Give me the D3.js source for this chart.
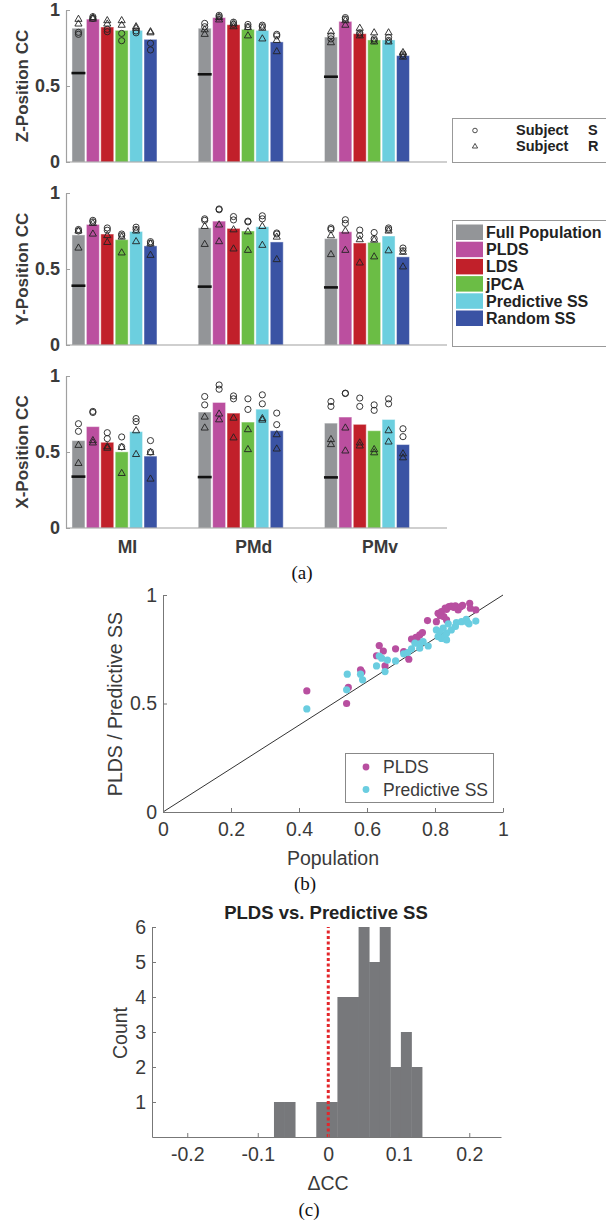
<!DOCTYPE html>
<html>
<head>
<meta charset="utf-8">
<script src="https://cdn.jsdelivr.net/npm/d3@7"></script>
<style>
  body { margin: 0; background: #fff; }
  svg { display: block; font-family: "Liberation Sans", Arial, sans-serif; }
</style>
</head>
<body>
<div id="chart"></div>
<script>
// Dati
const areas = ["MI", "PMd", "PMv"];
const methods = ["Full Population", "PLDS", "LDS", "jPCA", "Predictive SS", "Random SS"];
const methodColors = ["#939598", "#bb4f9f", "#c1202a", "#6bbd45", "#6ccfdf", "#3a53a4"];
const barTicks = [0, 0.5, 1];

// Z
const zBars = [
  [0.88, 0.94, 0.888, 0.866, 0.866, 0.807],
  [0.88, 0.95, 0.903, 0.873, 0.866, 0.79],
  [0.822, 0.925, 0.844, 0.803, 0.803, 0.70]
];
const zChance = [0.585, 0.577, 0.561];
const zSubjS = [
  [[0.853, 0.84], [0.956, 0.945], [0.873, 0.857], [0.846, 0.798], [0.862, 0.85], [0.781, 0.737]],
  [[0.912, 0.89], [0.965, 0.955], [0.92, 0.905], [0.905, 0.89], [0.90, 0.89], [0.84, 0.83]],
  [[0.83, 0.81], [0.95, 0.94], [0.85, 0.84], [0.81, 0.80], [0.82, 0.80], [0.71, 0.70]]
];
const zSubjR = [
  [[0.939, 0.908], [0.95, 0.94], [0.93, 0.908], [0.93, 0.90], [0.89, 0.88], [0.857, 0.85]],
  [[0.87, 0.84], [0.95, 0.935], [0.91, 0.89], [0.885, 0.83], [0.88, 0.81], [0.80, 0.726]],
  [[0.857, 0.785], [0.93, 0.90], [0.88, 0.83], [0.85, 0.79], [0.85, 0.79], [0.72, 0.69]]
];

// Y
const yBars = [
  [0.724, 0.793, 0.73, 0.693, 0.747, 0.652],
  [0.771, 0.815, 0.767, 0.75, 0.778, 0.678],
  [0.70, 0.745, 0.671, 0.675, 0.717, 0.58]
];
const yChance = [0.39, 0.384, 0.379];
const ySubjS = [
  [[0.76, 0.75], [0.82, 0.81], [0.77, 0.755], [0.73, 0.72], [0.775, 0.76], [0.68, 0.67]],
  [[0.83, 0.82], [0.895, 0.89], [0.845, 0.823], [0.815, 0.81], [0.85, 0.83], [0.737, 0.73]],
  [[0.77, 0.76], [0.824, 0.80], [0.756, 0.72], [0.74, 0.70], [0.77, 0.76], [0.638, 0.62]]
];
const ySubjR = [
  [[0.75, 0.638], [0.80, 0.73], [0.72, 0.675], [0.71, 0.606], [0.75, 0.68], [0.665, 0.59]],
  [[0.78, 0.662], [0.79, 0.68], [0.758, 0.632], [0.745, 0.623], [0.78, 0.656], [0.71, 0.562]],
  [[0.719, 0.595], [0.75, 0.623], [0.693, 0.54], [0.69, 0.58], [0.75, 0.62], [0.61, 0.514]]
];

// X
const xBars = [
  [0.575, 0.667, 0.564, 0.501, 0.634, 0.473],
  [0.763, 0.826, 0.756, 0.697, 0.782, 0.64],
  [0.69, 0.73, 0.682, 0.64, 0.714, 0.549]
];
const xChance = [0.338, 0.335, 0.333];
const xSubjS = [
  [[0.686, 0.636], [0.767, 0.76], [0.627, 0.588], [0.599, 0.534], [0.72, 0.70], [0.575, 0.50]],
  [[0.865, 0.81], [0.941, 0.913], [0.869, 0.85], [0.85, 0.78], [0.876, 0.817], [0.756, 0.68]],
  [[0.832, 0.80], [0.887, 0.885], [0.855, 0.80], [0.81, 0.774], [0.85, 0.817], [0.653, 0.601]]
];
const xSubjR = [
  [[0.544, 0.425], [0.575, 0.56], [0.535, 0.525], [0.53, 0.359], [0.64, 0.484], [0.496, 0.322]],
  [[0.73, 0.658], [0.75, 0.712], [0.723, 0.593], [0.647, 0.516], [0.72, 0.71], [0.614, 0.52]],
  [[0.582, 0.549], [0.658, 0.507], [0.56, 0.54], [0.516, 0.495], [0.64, 0.566], [0.488, 0.462]]
];

// Scatter (b)
const pldsPoints = [
  [0.423, 0.558], [0.540, 0.50], [0.545, 0.574], [0.581, 0.655], [0.585, 0.645], [0.628, 0.72],
  [0.636, 0.767], [0.648, 0.742], [0.653, 0.673], [0.684, 0.752], [0.708, 0.739], [0.723, 0.704],
  [0.731, 0.797], [0.744, 0.805], [0.755, 0.816], [0.763, 0.827], [0.750, 0.788], [0.778, 0.882],
  [0.804, 0.877], [0.809, 0.916], [0.819, 0.923], [0.826, 0.90], [0.834, 0.934], [0.841, 0.946],
  [0.848, 0.949], [0.855, 0.943], [0.868, 0.931], [0.881, 0.952], [0.902, 0.962], [0.904, 0.939],
  [0.920, 0.931], [0.834, 0.885], [0.815, 0.905], [0.830, 0.94], [0.860, 0.95], [0.875, 0.945]
];
const predPoints = [
  [0.423, 0.475], [0.542, 0.635], [0.540, 0.563], [0.581, 0.635], [0.587, 0.609], [0.628, 0.673],
  [0.643, 0.709], [0.653, 0.647], [0.636, 0.719], [0.684, 0.696], [0.708, 0.729], [0.731, 0.752],
  [0.741, 0.778], [0.755, 0.755], [0.765, 0.785], [0.780, 0.765], [0.804, 0.839], [0.809, 0.808],
  [0.819, 0.80], [0.829, 0.808], [0.834, 0.824], [0.824, 0.847], [0.839, 0.867], [0.848, 0.839],
  [0.863, 0.873], [0.878, 0.877], [0.892, 0.888], [0.900, 0.867], [0.920, 0.880], [0.814, 0.831],
  [0.834, 0.793], [0.755, 0.775], [0.895, 0.875], [0.860, 0.855], [0.720, 0.735], [0.660, 0.70]
];
const scatterTicksX = [0, 0.2, 0.4, 0.6, 0.8, 1];
const scatterTicksY = [0, 0.5, 1];

// Istogramma (c)
const histEdges = [-0.077, -0.062, -0.047, -0.032, -0.017, -0.002, 0.013, 0.028, 0.043, 0.058, 0.073, 0.088, 0.103, 0.118, 0.133];
const histCounts = [1, 1, 0, 0, 1, 1, 4, 4, 6, 5, 6, 2, 3, 2];
const histTicksX = [-0.2, -0.1, 0, 0.1, 0.2];
const histTicksY = [1, 2, 3, 4, 5, 6];

// Varuabili
const [width, height] = [606, 1224];
const textColor = "#3a3a3a";
const axisColor = "#a0a0a0";
const plainFormat = d => String(d);

const svg = d3.select("#chart")
  .append("svg")
  .attr("width", width)
  .attr("height", height);

// scala comune dei pannelli a barre
const xArea = d3.scaleLinear().domain([0.616, 3.634]).range([66, 447]);
const xMethod = d3.scaleBand().domain(methods).range([-42.5, 42.5]).paddingInner(0.1);

const drawBarPanel = (top, label, bars, chance, subjS, subjR, showCats) => {
  const y = d3.scaleLinear().domain([0, 1]).range([top + 152, top]);
  const g = svg.append("g");

  const barData = [];
  const markS = [];
  const markR = [];
  areas.forEach((a, ai) => {
    methods.forEach((m, mi) => {
      const cx = xArea(ai + 1) + xMethod(m) + xMethod.bandwidth() / 2;
      barData.push({ cx: cx, v: bars[ai][mi], c: methodColors[mi] });
      subjS[ai][mi].forEach(v => markS.push({ cx: cx, v: v }));
      subjR[ai][mi].forEach(v => markR.push({ cx: cx, v: v }));
    });
  });

  g.selectAll("rect.bar")
    .data(barData)
    .join("rect")
    .attr("class", "bar")
    .attr("x", d => d.cx - xMethod.bandwidth() / 2)
    .attr("y", d => y(d.v))
    .attr("width", xMethod.bandwidth())
    .attr("height", d => y(0) - y(d.v))
    .attr("fill", d => d.c)
    .attr("stroke", "#ffffff")
    .attr("stroke-opacity", 0.45)
    .attr("stroke-width", 1);

  // linea della popolazione
  g.selectAll("line.chance")
    .data(chance)
    .join("line")
    .attr("class", "chance")
    .attr("x1", (d, i) => xArea(i + 1) + xMethod(methods[0]) - 0.5)
    .attr("x2", (d, i) => xArea(i + 1) + xMethod(methods[0]) + xMethod.bandwidth() + 0.5)
    .attr("y1", d => y(d))
    .attr("y2", d => y(d))
    .attr("stroke", "#111")
    .attr("stroke-width", 2.6);

  g.selectAll("circle.s")
    .data(markS)
    .join("circle")
    .attr("class", "s")
    .attr("cx", d => d.cx)
    .attr("cy", d => y(d.v))
    .attr("r", 3.1)
    .attr("fill", "none")
    .attr("stroke", "#222")
    .attr("stroke-width", 0.9);

  g.selectAll("path.r")
    .data(markR)
    .join("path")
    .attr("class", "r")
    .attr("d", d3.symbol(d3.symbolTriangle).size(22))
    .attr("transform", d => "translate(" + d.cx + "," + y(d.v) + ")")
    .attr("fill", "none")
    .attr("stroke", "#222")
    .attr("stroke-width", 0.9);

  // assi
  const ax = g.append("g")
    .attr("transform", "translate(66,0)")
    .call(d3.axisLeft(y).tickValues(barTicks).tickSize(-4).tickSizeOuter(0).tickPadding(6).tickFormat(plainFormat));
  ax.select(".domain").attr("stroke", axisColor).attr("stroke-width", 1.2);
  ax.selectAll(".tick line").attr("stroke", axisColor);
  ax.selectAll(".tick text")
    .attr("fill", textColor)
    .attr("font-size", 18)
    .attr("font-weight", "bold")
    .attr("font-family", "Liberation Sans, Arial, sans-serif");

  g.append("line")
    .attr("x1", xArea.range()[0])
    .attr("x2", xArea.range()[1])
    .attr("y1", y(0))
    .attr("y2", y(0))
    .attr("stroke", axisColor)
    .attr("stroke-width", 1.2);

  g.append("text")
    .attr("transform", "translate(22," + (top + 76) + ") rotate(-90)")
    .attr("text-anchor", "middle")
    .attr("dominant-baseline", "central")
    .attr("font-size", 17)
    .attr("font-weight", "bold")
    .attr("fill", textColor)
    .text(label);

  if (showCats) {
    g.selectAll("text.cat")
      .data(areas)
      .join("text")
      .attr("class", "cat")
      .attr("x", (d, i) => xArea(i + 1) + 13)
      .attr("y", 553)
      .attr("text-anchor", "middle")
      .attr("font-size", 17.5)
      .attr("font-weight", "bold")
      .attr("fill", textColor)
      .text(d => d);
  }
};

const drawBarLegends = () => {
  const g = svg.append("g");
  g.append("rect")
    .attr("x", 452.5).attr("y", 118.5).attr("width", 170).attr("height", 44)
    .attr("fill", "#fff").attr("stroke", "#999").attr("stroke-width", 1);
  g.append("circle")
    .attr("cx", 475).attr("cy", 130.5).attr("r", 2.3)
    .attr("fill", "none").attr("stroke", "#222").attr("stroke-width", 0.8);
  g.append("path")
    .attr("d", d3.symbol(d3.symbolTriangle).size(12))
    .attr("transform", "translate(475,146.5)")
    .attr("fill", "none").attr("stroke", "#222").attr("stroke-width", 0.8);
  [["Subject", "S", 135], ["Subject", "R", 151]].forEach(r => {
    g.append("text").attr("x", 516).attr("y", r[2]).attr("font-size", 14.5)
      .attr("font-weight", "bold").attr("fill", "#222").text(r[0]);
    g.append("text").attr("x", 588).attr("y", r[2]).attr("font-size", 14.5)
      .attr("font-weight", "bold").attr("fill", "#222").text(r[1]);
  });

  const g2 = svg.append("g");
  g2.append("rect")
    .attr("x", 452.5).attr("y", 220.5).attr("width", 170).attr("height", 126)
    .attr("fill", "#fff").attr("stroke", "#999").attr("stroke-width", 1);
  g2.selectAll("rect.sw")
    .data(methods)
    .join("rect")
    .attr("class", "sw")
    .attr("x", 456)
    .attr("y", (d, i) => 224.5 + i * 17.2)
    .attr("width", 27)
    .attr("height", 15.5)
    .attr("fill", (d, i) => methodColors[i]);
  g2.selectAll("text.lab")
    .data(methods)
    .join("text")
    .attr("class", "lab")
    .attr("x", 486)
    .attr("y", (d, i) => 238 + i * 17.2)
    .attr("font-size", 16)
    .attr("font-weight", "bold")
    .attr("fill", "#222")
    .text(d => d);
};

const drawCaption = (txt, x, y) => {
  svg.append("text")
    .attr("x", x).attr("y", y)
    .attr("text-anchor", "middle")
    .attr("font-family", "Liberation Serif, Times New Roman, serif")
    .attr("font-size", 19)
    .attr("fill", "#111")
    .text(txt);
};

const styleAxis = (ax) => {
  ax.select(".domain").attr("stroke", "#777").attr("stroke-width", 1);
  ax.selectAll(".tick line").attr("stroke", "#777");
  ax.selectAll(".tick text")
    .attr("fill", textColor)
    .attr("font-size", 19.5)
    .attr("font-family", "Liberation Sans, Arial, sans-serif");
};

const drawScatter = () => {
  const x = d3.scaleLinear().domain([0, 1]).range([163, 503]);
  const y = d3.scaleLinear().domain([0, 1]).range([812, 595]);
  const g = svg.append("g");

  g.append("line")
    .attr("x1", x(0)).attr("y1", y(0)).attr("x2", x(1)).attr("y2", y(1))
    .attr("stroke", "#333").attr("stroke-width", 1);

  g.selectAll("circle.plds")
    .data(pldsPoints)
    .join("circle")
    .attr("class", "plds")
    .attr("cx", d => x(d[0]))
    .attr("cy", d => y(d[1]))
    .attr("r", 3.6)
    .attr("fill", "#b84fa0");

  g.selectAll("circle.pred")
    .data(predPoints)
    .join("circle")
    .attr("class", "pred")
    .attr("cx", d => x(d[0]))
    .attr("cy", d => y(d[1]))
    .attr("r", 3.6)
    .attr("fill", "#6acde0");

  const ax = g.append("g")
    .attr("transform", "translate(0," + y(0) + ")")
    .call(d3.axisBottom(x).tickValues(scatterTicksX).tickSize(-4).tickSizeOuter(0).tickPadding(10).tickFormat(plainFormat));
  styleAxis(ax);
  const ay = g.append("g")
    .attr("transform", "translate(" + x(0) + ",0)")
    .call(d3.axisLeft(y).tickValues(scatterTicksY).tickSize(-4).tickSizeOuter(0).tickPadding(6).tickFormat(plainFormat));
  styleAxis(ay);

  g.append("text")
    .attr("x", 333).attr("y", 865)
    .attr("text-anchor", "middle")
    .attr("font-size", 19.5).attr("fill", textColor)
    .text("Population");
  g.append("text")
    .attr("transform", "translate(115,704) rotate(-90)")
    .attr("text-anchor", "middle")
    .attr("dominant-baseline", "central")
    .attr("font-size", 19.5).attr("fill", textColor)
    .text("PLDS / Predictive SS");

  // legenda
  g.append("rect")
    .attr("x", 345.5).attr("y", 753.5).attr("width", 148).attr("height", 49)
    .attr("fill", "#fff").attr("stroke", "#888").attr("stroke-width", 1);
  [["PLDS", "#b84fa0", 767], ["Predictive SS", "#6acde0", 789.5]].forEach(r => {
    g.append("circle").attr("cx", 366).attr("cy", r[2]).attr("r", 3.4).attr("fill", r[1]);
    g.append("text").attr("x", 383).attr("y", r[2] + 6)
      .attr("font-size", 17.5).attr("fill", textColor).text(r[0]);
  });
};

const drawHistogram = () => {
  const x = d3.scaleLinear().domain([-0.25, 0.245]).range([152, 501]);
  const y = d3.scaleLinear().domain([0, 6]).range([1137, 927]);
  const g = svg.append("g");

  const bins = histCounts.map((c, i) => ({ x0: histEdges[i], x1: histEdges[i + 1], c: c }));
  g.selectAll("rect.bin")
    .data(bins.filter(d => d.c > 0))
    .join("rect")
    .attr("class", "bin")
    .attr("x", d => x(d.x0))
    .attr("y", d => y(d.c))
    .attr("width", d => x(d.x1) - x(d.x0) + 0.4)
    .attr("height", d => y(0) - y(d.c))
    .attr("fill", "#77787b");

  g.append("line")
    .attr("x1", x(0)).attr("x2", x(0))
    .attr("y1", y(0)).attr("y2", y(6))
    .attr("stroke", "#e3262b")
    .attr("stroke-width", 3)
    .attr("stroke-dasharray", "3,2.5");

  const ax = g.append("g")
    .attr("transform", "translate(0," + y(0) + ")")
    .call(d3.axisBottom(x).tickValues(histTicksX).tickSize(-4).tickSizeOuter(0).tickPadding(10).tickFormat(plainFormat));
  styleAxis(ax);
  const ay = g.append("g")
    .attr("transform", "translate(" + x.range()[0] + ",0)")
    .call(d3.axisLeft(y).tickValues(histTicksY).tickSize(-4).tickSizeOuter(0).tickPadding(6).tickFormat(plainFormat));
  styleAxis(ay);

  g.append("text")
    .attr("x", 326).attr("y", 919)
    .attr("text-anchor", "middle")
    .attr("font-size", 18.5).attr("font-weight", "bold").attr("fill", "#222")
    .text("PLDS vs. Predictive SS");
  g.append("text")
    .attr("x", 328).attr("y", 1190)
    .attr("text-anchor", "middle")
    .attr("font-size", 19.5).attr("fill", textColor)
    .text("\u0394CC");
  g.append("text")
    .attr("transform", "translate(120,1033) rotate(-90)")
    .attr("text-anchor", "middle")
    .attr("dominant-baseline", "central")
    .attr("font-size", 19.5).attr("fill", textColor)
    .text("Count");
};

drawBarPanel(10, "Z-Position CC", zBars, zChance, zSubjS, zSubjR, false);
drawBarPanel(193, "Y-Position CC", yBars, yChance, ySubjS, ySubjR, false);
drawBarPanel(376, "X-Position CC", xBars, xChance, xSubjS, xSubjR, true);
drawBarLegends();
drawCaption("(a)", 302, 579);
drawScatter();
drawCaption("(b)", 305, 890);
drawHistogram();
drawCaption("(c)", 309, 1216);
</script>
</body>
</html>
